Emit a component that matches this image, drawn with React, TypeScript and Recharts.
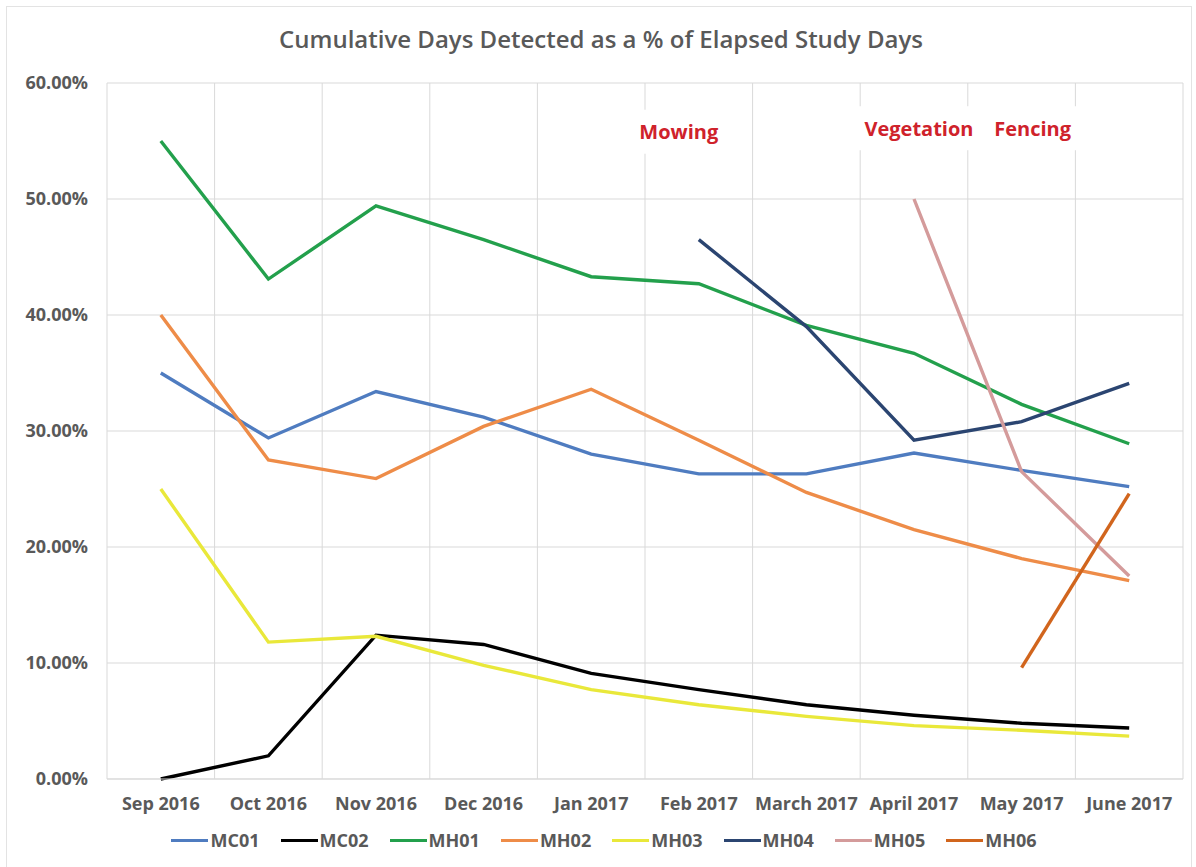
import { LineChart, Line, XAxis, YAxis, CartesianGrid, ReferenceDot } from 'recharts';

const months = ['Sep 2016', 'Oct 2016', 'Nov 2016', 'Dec 2016', 'Jan 2017', 'Feb 2017', 'March 2017', 'April 2017', 'May 2017', 'June 2017'];

const mc01 = [35.0, 29.4, 33.4, 31.2, 28.0, 26.3, 26.3, 28.1, 26.6, 25.2];
const mc02 = [0.0, 2.0, 12.4, 11.6, 9.1, 7.7, 6.4, 5.5, 4.8, 4.4];
const mh01 = [55.0, 43.1, 49.4, 46.5, 43.3, 42.7, 39.1, 36.7, 32.3, 28.9];
const mh02 = [40.0, 27.5, 25.9, 30.4, 33.6, 29.2, 24.7, 21.5, 19.0, 17.1];
const mh03 = [25.0, 11.8, 12.3, 9.8, 7.7, 6.4, 5.4, 4.6, 4.2, 3.7];
const mh04 = [null, null, null, null, null, 46.5, 39.0, 29.2, 30.8, 34.1];
const mh05 = [null, null, null, null, null, null, null, 50.0, 26.5, 17.5];
const mh06 = [null, null, null, null, null, null, null, null, 9.6, 24.6];

const yTicks = [0, 10, 20, 30, 40, 50, 60];

const series = [
  { key: 'MC01', values: mc01, color: '#4f7cc0' },
  { key: 'MC02', values: mc02, color: '#000000' },
  { key: 'MH01', values: mh01, color: '#23a04c' },
  { key: 'MH02', values: mh02, color: '#ee8c48' },
  { key: 'MH03', values: mh03, color: '#e9e83a' },
  { key: 'MH04', values: mh04, color: '#2b4571' },
  { key: 'MH05', values: mh05, color: '#d49b9b' },
  { key: 'MH06', values: mh06, color: '#d1651d' },
];

const notes = [
  { text: 'Mowing', month: 'Feb 2017', y: 55.8, dx: -20 },
  { text: 'Vegetation', month: 'April 2017', y: 56.1, dx: 5 },
  { text: 'Fencing', month: 'May 2017', y: 56.1, dx: 11 },
];

const data = months.map((m, i) => {
  const row: Record<string, any> = { month: m };
  series.forEach((s) => { row[s.key] = s.values[i]; });
  return row;
});

const font = '"Open Sans", sans-serif';
const gray = '#595959';

const NoteLabel = ({ viewBox, text, dx }: any) => {
  const cx = viewBox.x + viewBox.width / 2 + dx;
  const cy = viewBox.y + viewBox.height / 2;
  const w = text.length * 12 + 10;
  return (
    <g>
      <rect x={cx - w / 2} y={cy - 22} width={w} height={44} fill="#ffffff" />
      <text x={cx} y={cy} textAnchor="middle" dominantBaseline="central" fill="#cf222b" fontSize={20} fontWeight={700} fontFamily={font}>
        {text}
      </text>
    </g>
  );
};

// vertical grid lines sit between the categories, like Excel
const boundaryLines = ({ offset }: any) => {
  const n = months.length;
  return Array.from({ length: n + 1 }, (_, i) => offset.left + (i * offset.width) / n);
};

export default function App() {
  return (
    <div style={{ position: 'absolute', left: 0, top: 0, width: 1196, height: 867, background: '#fff', fontFamily: font, overflow: 'hidden' }}>
      <div style={{ position: 'absolute', left: 6, top: 6, width: 1184, height: 870, border: '1px solid #e3e3e3' }} />
      <div style={{ position: 'absolute', left: 0, top: 22, width: 1202, textAlign: 'center', fontSize: 24, fontWeight: 600, color: gray }}>
        Cumulative Days Detected as a % of Elapsed Study Days
      </div>
      <div style={{ position: 'absolute', left: 0, top: 0 }}>
        <LineChart width={1196} height={867} data={data} margin={{ top: 83, right: 13, left: 0, bottom: 48 }}>
          <CartesianGrid stroke="#d9d9d9" strokeWidth={1} verticalCoordinatesGenerator={boundaryLines} />
          <XAxis
            dataKey="month"
            padding={{ left: 53.8, right: 53.8 }}
            axisLine={{ stroke: '#d9d9d9' }}
            tickLine={false}
            tickMargin={12}
            height={40}
            interval={0}
            tick={{ fill: gray, fontSize: 18, fontWeight: 700, fontFamily: font }}
          />
          <YAxis
            domain={[0, 60]}
            ticks={yTicks}
            width={107}
            axisLine={false}
            tickLine={false}
            tickMargin={13}
            tickFormatter={(v) => `${v.toFixed(2)}%`}
            tick={{ fill: gray, fontSize: 18, fontWeight: 700, fontFamily: font }}
          />
          {series.map((s) => (
            <Line
              key={s.key}
              dataKey={s.key}
              stroke={s.color}
              strokeWidth={3.4}
              dot={false}
              activeDot={false}
              connectNulls={false}
              isAnimationActive={false}
            />
          ))}
          {notes.map((n) => (
            <ReferenceDot
              key={n.text}
              x={n.month}
              y={n.y}
              r={0}
              stroke="none"
              fill="none"
              label={<NoteLabel text={n.text} dx={n.dx} />}
            />
          ))}
        </LineChart>
      </div>
      <div style={{ position: 'absolute', left: 6, top: 827, width: 1196, display: 'flex', justifyContent: 'center', gap: 21 }}>
        {series.map((s) => (
          <div key={s.key} style={{ display: 'flex', alignItems: 'center', height: 26 }}>
            <span style={{ display: 'inline-block', width: 37, height: 3, background: s.color, marginRight: 2 }} />
            <span style={{ fontSize: 18, fontWeight: 700, color: gray }}>{s.key}</span>
          </div>
        ))}
      </div>
    </div>
  );
}
